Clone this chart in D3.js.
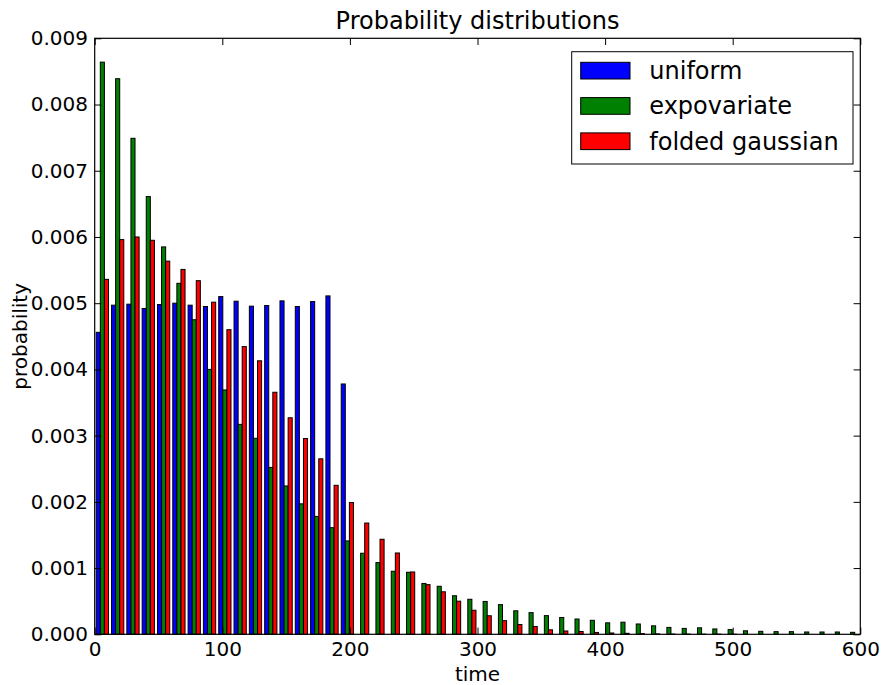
<!DOCTYPE html>
<html>
<head>
<meta charset="utf-8">
<script src="https://cdn.jsdelivr.net/npm/d3@7"></script>
<style>
  html, body { margin: 0; padding: 0; background: #ffffff; }
  svg { display: block; }
  text { font-family: "DejaVu Sans", sans-serif; fill: #000; }
</style>
</head>
<body>
<svg id="chart" width="884" height="685"></svg>
<script>
// ---- data (probability density per bin, bins of width 12 from 0 to 600) ----
const binWidth = 12;
const binStarts = d3.range(0, 600, 12);
const seriesNames = ["uniform", "expovariate", "folded gaussian"];
const seriesColors = ["#0000ff", "#008000", "#ff0000"];

const uniform = [
  0.00456, 0.00497, 0.004985, 0.00492, 0.00498, 0.00500, 0.00497, 0.00495, 0.00510, 0.00503,
  0.004955, 0.004965, 0.005035, 0.00495, 0.005025, 0.00511, 0.00378, 0, 0, 0,
  0, 0, 0, 0, 0, 0, 0, 0, 0, 0,
  0, 0, 0, 0, 0, 0, 0, 0, 0, 0,
  0, 0, 0, 0, 0, 0, 0, 0, 0, 0
];
const expovariate = [
  0.00864, 0.00839, 0.00749, 0.00661, 0.00585, 0.00530, 0.00475, 0.00400, 0.00369, 0.00317,
  0.00296, 0.00252, 0.00224, 0.00197, 0.00178, 0.00161, 0.00141, 0.001224, 0.001083, 0.000952,
  0.000937, 0.000768, 0.000725, 0.000582, 0.000529, 0.000496, 0.000448, 0.000355, 0.000327, 0.000282,
  0.000254, 0.000231, 0.000211, 0.000173, 0.000183, 0.000156, 0.000128, 0.000104, 0.000089, 0.000098,
  0.000081, 0.000071, 0.000053, 0.000045, 0.000040, 0.000040, 0.000035, 0.000035, 0.000035, 0.000030
];
const foldedGaussian = [
  0.00536, 0.00596, 0.00600, 0.00595, 0.005635, 0.00551, 0.00534, 0.005015, 0.00460, 0.004345,
  0.00413, 0.003655, 0.00327, 0.002956, 0.00265, 0.00225, 0.00199, 0.00168, 0.001435, 0.001228,
  0.000941, 0.000750, 0.000642, 0.000500, 0.000363, 0.000280, 0.000206, 0.000148, 0.000118, 0.000068,
  0.000050, 0.000042, 0.000028, 0.000020, 0.000015, 0.000010, 0.000006, 0.000004, 0.000003, 0.000002,
  0.000002, 0.000001, 0, 0, 0, 0, 0, 0, 0, 0
];
const xTicks = [0, 100, 200, 300, 400, 500, 600];
const yTicks = [0, 0.001, 0.002, 0.003, 0.004, 0.005, 0.006, 0.007, 0.008, 0.009];
const titleText = "Probability distributions";
const xLabel = "time";
const yLabel = "probability";

// ---- layout ----
const L = 94.7, R = 860.3, T = 38.3, B = 634.3;
const svg = d3.select("#chart");
const x = d3.scaleLinear().domain([0, 600]).range([L, R]);
const y = d3.scaleLinear().domain([0, 0.009]).range([B, T]);

const allSeries = [uniform, expovariate, foldedGaussian];
const nx = allSeries.length;
const dr = 0.8;
const barW = dr * binWidth / nx;
const offset0 = 0.5 * binWidth - 0.5 * dr * binWidth;

const plot = svg.append("g");
allSeries.forEach((vals, s) => {
  plot.selectAll(null)
    .data(vals.map((v, i) => ({ v, x0: binStarts[i] })))
    .enter().append("rect")
    .attr("x", d => x(d.x0 + offset0 + s * barW))
    .attr("width", d => x(d.x0 + offset0 + (s + 1) * barW) - x(d.x0 + offset0 + s * barW))
    .attr("y", d => y(d.v))
    .attr("height", d => y(0) - y(d.v))
    .attr("fill", seriesColors[s])
    .attr("stroke", "#000")
    .attr("stroke-width", 1);
});

// ---- axes ----
const tl = 6.7;
const fmt = d3.format(".3f");
const ax = (g) => { g.select(".domain").remove(); g.selectAll("line").attr("stroke", "#000"); g.selectAll("text").style("font-size", "20px").style("font-family", "DejaVu Sans"); };

svg.append("g").attr("transform", `translate(0,${B})`)
  .call(d3.axisBottom(x).tickValues(xTicks).tickSizeInner(-tl).tickSizeOuter(0).tickPadding(7.4).tickFormat(d3.format("d")))
  .call(ax);
svg.append("g").attr("transform", `translate(0,${T})`)
  .call(d3.axisTop(x).tickValues(xTicks).tickSizeInner(-tl).tickSizeOuter(0).tickFormat(""))
  .call(ax);
svg.append("g").attr("transform", `translate(${L},0)`)
  .call(d3.axisLeft(y).tickValues(yTicks).tickSizeInner(-tl).tickSizeOuter(0).tickPadding(6.7).tickFormat(fmt))
  .call(ax);
svg.append("g").attr("transform", `translate(${R},0)`)
  .call(d3.axisRight(y).tickValues(yTicks).tickSizeInner(-tl).tickSizeOuter(0).tickFormat(""))
  .call(ax);

svg.append("rect")
  .attr("x", L).attr("y", T).attr("width", R - L).attr("height", B - T)
  .attr("fill", "none").attr("stroke", "#000").attr("stroke-width", 1.2);

// ---- labels ----
svg.append("text").attr("x", (L + R) / 2).attr("y", 29.3)
  .attr("text-anchor", "middle").style("font-size", "24px").text(titleText);
svg.append("text").attr("x", (L + R) / 2).attr("y", 681)
  .attr("text-anchor", "middle").style("font-size", "20px").text(xLabel);
svg.append("text").attr("transform", `translate(27,${(T + B) / 2}) rotate(-90)`)
  .attr("text-anchor", "middle").style("font-size", "20px").text(yLabel);

// ---- legend ----
const lg = svg.append("g");
lg.append("rect").attr("x", 571.7).attr("y", 51.7).attr("width", 281.3).attr("height", 112.3)
  .attr("fill", "#fff").attr("stroke", "#000").attr("stroke-width", 1);
seriesNames.forEach((name, i) => {
  const yy = 62.3 + i * 35.3;
  lg.append("rect").attr("x", 580.7).attr("y", yy).attr("width", 49.3).attr("height", 16.7)
    .attr("fill", seriesColors[i]).attr("stroke", "#000").attr("stroke-width", 1);
  lg.append("text").attr("x", 649.3).attr("y", yy + 16.7).style("font-size", "24px").text(name);
});
</script>
</body>
</html>
